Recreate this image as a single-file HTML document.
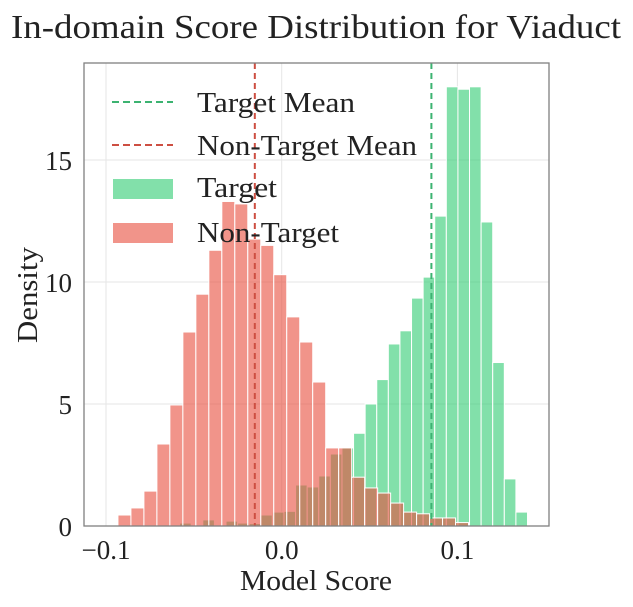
<!DOCTYPE html>
<html><head><meta charset="utf-8"><style>
body{margin:0;background:#fff;}
svg{display:block;font-family:"Liberation Serif",serif;}
</style></head><body>
<svg id="chart" width="633" height="607" viewBox="0 0 633 607">
<text x="316" y="38" text-anchor="middle" font-size="34" textLength="610" lengthAdjust="spacingAndGlyphs" fill="#222">In-domain Score Distribution for Viaduct</text>
<g id="grid"></g>
<g id="bars"></g>
<g id="lines"></g>
<rect x="84" y="63" width="465" height="463" fill="none" stroke="#808080" stroke-width="1.3"/>
<g id="ticks"></g>
<text x="316" y="590" text-anchor="middle" font-size="28" textLength="152" lengthAdjust="spacingAndGlyphs" fill="#222">Model Score</text>
<text transform="translate(37,295) rotate(-90)" text-anchor="middle" font-size="28" textLength="96" lengthAdjust="spacingAndGlyphs" fill="#222">Density</text>
<g>
<line x1="112" y1="102" x2="173" y2="102" stroke="#3cb371" stroke-width="2" stroke-dasharray="7,4"/>
<text x="197" y="112" font-size="28" textLength="158" lengthAdjust="spacingAndGlyphs" fill="#222">Target Mean</text>
<line x1="112" y1="145" x2="173" y2="145" stroke="#cd4f42" stroke-width="2" stroke-dasharray="7,4"/>
<text x="197" y="155" font-size="28" textLength="220" lengthAdjust="spacingAndGlyphs" fill="#222">Non-Target Mean</text>
<rect x="113" y="179" width="60" height="20" fill="#82e0aa"/>
<text x="197" y="197" font-size="28" textLength="80" lengthAdjust="spacingAndGlyphs" fill="#222">Target</text>
<rect x="113" y="223" width="60" height="20" fill="#f1948a"/>
<text x="197" y="242" font-size="28" textLength="142" lengthAdjust="spacingAndGlyphs" fill="#222">Non-Target</text>
</g>
</svg>
<script>
const redStart = -0.0932;
const redWidth = 0.00739;
const redValues = [0.45,0.74,1.43,3.36,4.96,7.95,9.5,11.3,13.3,13.2,11.76,11.5,10.3,8.57,7.54,5.9,3.2,3.2,2.0,1.56,1.35,0.94,0.57,0.5,0.33,0.33,0.14];
const greenStart = -0.0581;
const greenWidth = 0.0066;
const greenValues = [0.12,0,0.25,0,0.2,0.12,0.1,0.45,0.57,0.6,1.68,1.6,2.05,2.95,3.2,3.8,5.0,6.0,7.46,8.0,9.34,10.2,12.7,18.0,17.9,18.0,12.46,6.7,1.93,0.57];
const greenMean = 0.0852;
const redMean = -0.0153;
const xTicks = [-0.1,0.0,0.1];
const xTickLabels = ["\u22120.1","0.0","0.1"];
const yTicks = [0,5,10,15];

const NS="http://www.w3.org/2000/svg";
function X(v){return 281.7+v*1757;}
function Y(v){return 526-v*24.4;}
function mk(tag,attrs,parent){const e=document.createElementNS(NS,tag);for(const k in attrs)e.setAttribute(k,attrs[k]);document.getElementById(parent).appendChild(e);return e;}

xTicks.forEach((t,i)=>{
  const g=mk('line',{x1:X(t),x2:X(t),y1:63,y2:526,stroke:'#e6e6e6','stroke-width':1},'grid');
  
  
  const tx=mk('text',{x:X(t),y:559,'text-anchor':'middle','font-size':27,fill:'#222'},'ticks');
  tx.textContent=xTickLabels[i];
  
  
});
yTicks.forEach(t=>{
  if(t>0){
    const g=mk('line',{x1:84,x2:549,y1:Y(t),y2:Y(t),stroke:'#e6e6e6','stroke-width':1},'grid');
    
    
  }
  const tx=mk('text',{x:72,y:Y(t)+10,'text-anchor':'end','font-size':27,fill:'#222'},'ticks');
  tx.textContent=String(t);
  
  
});
greenValues.forEach((v,i)=>{
  if(v<=0)return;
  const x0=X(greenStart+i*greenWidth),x1=X(greenStart+(i+1)*greenWidth);
  const r=mk('rect',{x:x0,y:Y(v),width:x1-x0,height:526-Y(v),fill:'#2ecc71','fill-opacity':0.6,stroke:'#fff','stroke-width':1},'bars');
  
  
});
redValues.forEach((v,i)=>{
  const x0=X(redStart+i*redWidth),x1=X(redStart+(i+1)*redWidth);
  const r=mk('rect',{x:x0,y:Y(v),width:x1-x0,height:526-Y(v),fill:'#e74c3c','fill-opacity':0.6,stroke:'#fff','stroke-width':1},'bars');
  
  
});
const gl=mk('line',{x1:X(greenMean),x2:X(greenMean),y1:63,y2:526,stroke:'#3cb371','stroke-width':2,'stroke-dasharray':'6,4'},'lines');


const rl=mk('line',{x1:X(redMean),x2:X(redMean),y1:63,y2:526,stroke:'#cd4f42','stroke-width':2,'stroke-dasharray':'6,4'},'lines');


</script>
</body></html>
